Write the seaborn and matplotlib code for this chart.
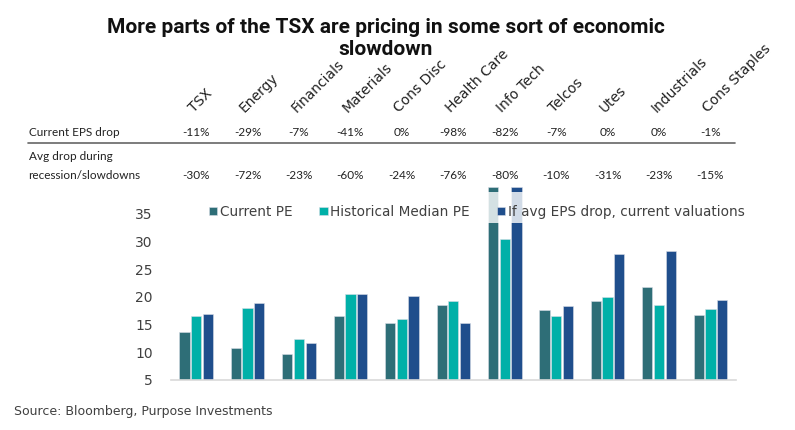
import matplotlib
matplotlib.use("Agg")
import matplotlib.pyplot as plt
import matplotlib.transforms as mtransforms
from matplotlib.patches import Rectangle
import seaborn as sns
import pandas as pd

sectors = ["TSX", "Energy", "Financials", "Materials", "Cons Disc", "Health Care",
           "Info Tech", "Telcos", "Utes", "Industrials", "Cons Staples"]
current_eps_drop = ["-11%", "-29%", "-7%", "-41%", "0%", "-98%", "-82%", "-7%", "0%", "0%", "-1%"]
avg_drop = ["-30%", "-72%", "-23%", "-60%", "-24%", "-76%", "-80%", "-10%", "-31%", "-23%", "-15%"]
current_pe = [13.6, 10.7, 9.7, 16.5, 15.3, 18.5, 39.8, 17.7, 19.3, 21.7, 16.7]
hist_median_pe = [16.5, 18.0, 12.4, 20.5, 16.0, 19.2, 30.5, 16.5, 19.9, 18.6, 17.8]
if_avg_drop_pe = [16.9, 18.9, 11.6, 20.5, 20.1, 15.2, 39.8, 18.4, 27.8, 28.3, 19.4]
series = ["Current PE", "Historical Median PE", "If avg EPS drop, current valuations"]
colors = ["#2E6E77", "#00B0A8", "#1F4E8C"]

sns.set_theme(style="white")
plt.rcParams["font.family"] = ["DejaVu Sans"]

rows = []
for vals, s in zip([current_pe, hist_median_pe, if_avg_drop_pe], series):
    for sec, v in zip(sectors, vals):
        rows.append({"sector": sec, "series": s, "pe": v})
df = pd.DataFrame(rows)

fig = plt.figure(figsize=(7.95, 4.30), dpi=100)
ax = fig.add_axes([0.215, 0.1163, 0.711, 0.4511])
sns.barplot(data=df, x="sector", y="pe", hue="series", order=sectors, hue_order=series,
            palette=dict(zip(series, colors)), saturation=1, width=0.68, gap=0.12, ax=ax,
            edgecolor="#d8dde6", linewidth=0.4, legend=True)
ax.set_ylim(5, 40)
ax.set_xlim(-0.49, 10.5)
ax.set_yticks([5, 10, 15, 20, 25, 30, 35])
ax.tick_params(axis="y", length=0, pad=13, labelsize=10, labelcolor="#404040")
ax.set_xticks([])
ax.set_xlabel("")
ax.set_ylabel("")
for s in ["top", "right", "left"]:
    ax.spines[s].set_visible(False)
ax.spines["bottom"].set_color("#d9d9d9")
ax.spines["bottom"].set_linewidth(1.2)

# break band on off-scale Info Tech bars
i_it = sectors.index("Info Tech")
ax.add_patch(Rectangle((i_it - 0.36, 33.3), 0.72, 5.7, facecolor="white", alpha=0.8,
                       edgecolor="none", zorder=5))

handles, labels = ax.get_legend_handles_labels()
ax.legend(handles, labels, loc="upper left", bbox_to_anchor=(0.247, 0.552),
          bbox_transform=fig.transFigure, ncol=3, frameon=False, fontsize=9.8,
          handlelength=0.6, handleheight=0.6, handletextpad=0.2, columnspacing=2.0,
          labelcolor="#404040")

# title
tf = ["Roboto", "DejaVu Sans"]
fig.text(0.485, 0.935, "More parts of the TSX are pricing in some sort of economic",
         ha="center", va="center", fontsize=15, fontweight="bold", family=tf,
         color="#111111")
fig.text(0.485, 0.885, "slowdown", ha="center", va="center", fontsize=15,
         fontweight="bold", family=tf, color="#111111")

# table above
trans = mtransforms.blended_transform_factory(ax.transData, fig.transFigure)
tfont = ["Lato", "DejaVu Sans"]
for i, sec in enumerate(sectors):
    fig.text(i - 0.05, 0.737, sec, transform=trans, rotation=45, rotation_mode="anchor",
             ha="left", va="baseline", fontsize=10, color="#222222")
    fig.text(i, 0.693, current_eps_drop[i], transform=trans, ha="center", va="center",
             fontsize=8.5, family=tfont, color="#222222")
    fig.text(i, 0.591, avg_drop[i], transform=trans, ha="center", va="center",
             fontsize=8.5, family=tfont, color="#222222")
fig.text(0.036, 0.693, "Current EPS drop", ha="left", va="center", fontsize=8.5,
         family=tfont, color="#222222")
fig.text(0.036, 0.637, "Avg drop during", ha="left", va="center", fontsize=8.5,
         family=tfont, color="#222222")
fig.text(0.036, 0.591, "recession/slowdowns", ha="left", va="center", fontsize=8.5,
         family=tfont, color="#222222")
fig.add_artist(plt.Line2D([0.035, 0.925], [0.667, 0.667], transform=fig.transFigure,
                          color="#666666", linewidth=1.2))

fig.text(0.018, 0.042, "Source: Bloomberg, Purpose Investments", ha="left", va="center",
         fontsize=9, color="#404040")

fig.savefig("out.png", dpi=100)
